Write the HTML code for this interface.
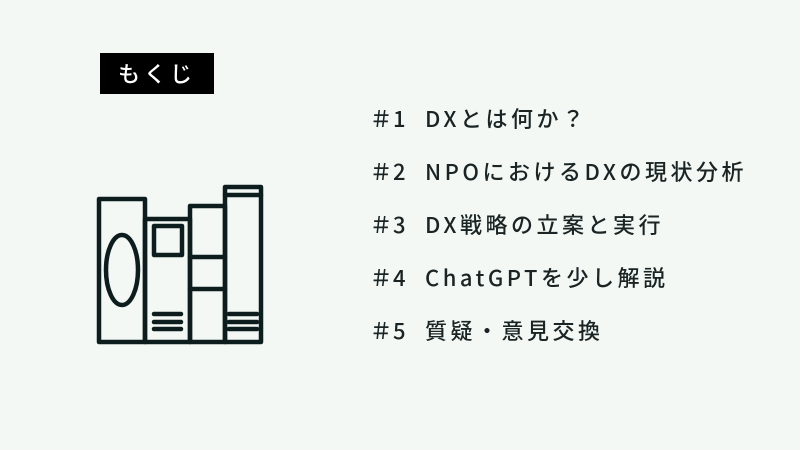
<!DOCTYPE html>
<html><head><meta charset="utf-8"><style>
html,body{margin:0;padding:0}
body{width:800px;height:450px;background:#f3f8f5;position:relative;overflow:hidden;font-family:"Noto Sans CJK JP","Liberation Sans",sans-serif;color:#1b2424}
.tag{position:absolute;left:100px;top:53px;width:114px;height:41px;background:#000;color:#fff;font-size:22px;line-height:41px;text-align:center;letter-spacing:4px;font-weight:500}
.item{position:absolute;left:370px;font-size:22px;line-height:30px;letter-spacing:3.5px;white-space:nowrap;font-weight:500}
.item .n{position:absolute;left:0}
.item .d{position:absolute;left:23px}
.item .t{position:absolute;left:55px}
</style></head><body>
<div class="tag">もくじ</div>
<div class="item" style="top:103px"><span class="n">＃</span><span class="d">1</span><span class="t">DXとは何か？</span></div>
<div class="item" style="top:156px"><span class="n">＃</span><span class="d">2</span><span class="t">NPOにおけるDXの現状分析</span></div>
<div class="item" style="top:209px"><span class="n">＃</span><span class="d">3</span><span class="t">DX戦略の立案と実行</span></div>
<div class="item" style="top:262px"><span class="n">＃</span><span class="d">4</span><span class="t">ChatGPTを少し解説</span></div>
<div class="item" style="top:315px"><span class="n">＃</span><span class="d">5</span><span class="t">質疑・意見交換</span></div>
<svg width="800" height="450" style="position:absolute;left:0;top:0" fill="none" stroke="#0d1c1c" stroke-width="4.5" stroke-linejoin="round" stroke-linecap="round">
<rect x="99" y="199" width="46" height="143"/>
<rect x="145" y="219" width="45" height="123"/>
<rect x="190" y="206" width="35" height="136"/>
<rect x="225" y="187" width="36" height="155"/>
<line x1="225" y1="195" x2="261" y2="195"/>
<ellipse cx="122" cy="270" rx="16" ry="35"/>
<rect x="154" y="226" width="28" height="29"/>
<line x1="154" y1="314" x2="181" y2="314"/><line x1="154" y1="322" x2="181" y2="322"/><line x1="154" y1="329" x2="181" y2="329"/>
<line x1="190" y1="257" x2="225" y2="257"/><line x1="190" y1="289" x2="225" y2="289"/>
<line x1="229" y1="314" x2="257" y2="314"/><line x1="229" y1="322" x2="257" y2="322"/><line x1="229" y1="329" x2="257" y2="329"/>
</svg>
</body></html>
